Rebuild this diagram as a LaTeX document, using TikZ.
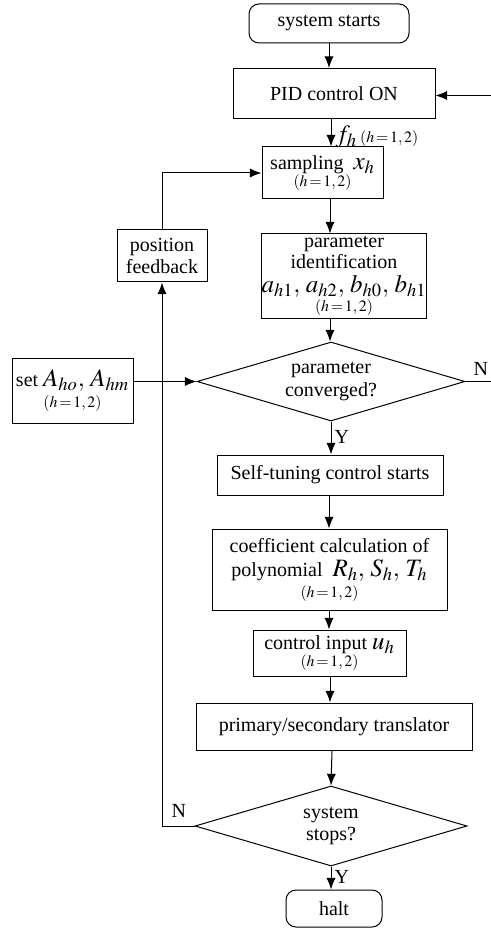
\documentclass[tikz,border=0pt]{standalone}
\usepackage{amsmath}
\usepackage{mathptmx}
\usepackage[no-math]{fontspec}
\setmainfont{Liberation Serif}
\setsansfont{Liberation Serif}
\usepackage{tikz}
\usetikzlibrary{shapes.geometric,arrows.meta}

\newcommand{\hrange}{{\fontsize{9.5}{10}\selectfont$(h\!=\!1,2)$}}
\newcommand{\largemath}[1]{{\fontsize{15}{16}\selectfont$#1$}}

\tikzset{
    box/.style={draw, rectangle, inner sep=0pt, align=center},
    term/.style={draw, rectangle, rounded corners=6pt, inner sep=0pt, align=center},
    decision/.style={draw, diamond, aspect=3.4, inner sep=0pt, align=center},
    arr/.style={-{Latex[length=7pt,width=5.5pt]}},
    lbl/.style={inner sep=0pt, anchor=west}
}

\begin{document}
\begin{tikzpicture}[x=0.6pt, y=-0.6pt, line width=0.6pt, font=\rmfamily\fontsize{12}{13.5}\selectfont]
    \useasboundingbox (0,0) rectangle (491,929);
    % main column
        \node [term, minimum width=96pt, minimum height=23.4pt] (start) at (329,23.5) {system starts};
        \node [box, minimum width=121.2pt, minimum height=30pt] (pid) at (334,93.5) {PID control ON};
        \node [box, minimum width=72.6pt, minimum height=31.2pt] (sample) at (322.5,173) {sampling \ \largemath{x_h}\\[-3pt]\hrange};
        \node [box, minimum width=93.6pt, minimum height=50.4pt] (ident) at (344,276) {parameter\\[-1pt]identification\\[1pt]\largemath{a_{h1},\,a_{h2},\,b_{h0},\,b_{h1}}\\[-2pt]\hrange};
        \node [decision, minimum width=160.8pt, minimum height=47.4pt] (conv) at (331,381.5) {parameter\\converged?};
        \node [box, minimum width=135.6pt, minimum height=24pt] (tuning) at (330,475) {Self-tuning control starts};
        \node [box, minimum width=141pt, minimum height=48.6pt] (coef) at (329.5,569.5) {coefficient calculation of\\[1pt]polynomial \ \largemath{R_h,\,S_h,\,T_h}\\[-1pt]\hrange};
        \node [box, minimum width=91.8pt, minimum height=27.6pt] (input) at (329.5,653) {control input \largemath{u_h}\\[-3pt]\hrange};
        \node [box, minimum width=165.6pt, minimum height=28.2pt] (trans) at (334,726.5) {primary/secondary translator};
        \node [decision, minimum width=163.2pt, minimum height=48pt] (stop) at (331,826) {system\\stops?};
        \node [term, minimum width=57.6pt, minimum height=22.2pt] (halt) at (334,908.5) {halt};
    % side boxes
        \node [box, minimum width=54pt, minimum height=31.2pt] (feedback) at (162,256) {position\\feedback};
        \node [box, minimum width=72.6pt, minimum height=39pt] (setA) at (72.5,390.5) {set \largemath{A_{ho},\,A_{hm}}\\[-1pt]\hrange};
    % helper points
        \coordinate (colA) at (331,0);
        \coordinate (colB) at (330,0);
        \coordinate (colC) at (329,0);
        \coordinate (colD) at (332,0);
        \coordinate (edgeIn) at (491,95.5);
        \coordinate (edgeOut) at (491,381.5);
    % connectors
        \draw [arr] (start.south -| colC) -- (pid.north -| colC);
        \draw [arr] (pid.south -| colA) -- (sample.north -| colA);
        \node [lbl] (fh) at (335,137) {\largemath{f_h}\,\hrange};
        \draw [arr] (sample.south -| colB) -- (ident.north -| colB);
        \draw [arr] (ident.south -| colB) -- (conv.north -| colB);
        \draw [arr] (conv.south) -- (tuning.north -| conv.south);
        \node [lbl] (yes1) at (334,437) {Y};
        \draw [arr] (tuning.south -| colC) -- (coef.north -| colC);
        \draw [arr] (coef.south -| colC) -- (input.north -| colC);
        \draw [arr] (input.south -| colB) -- (trans.north -| colB);
        \draw [arr] (trans.south -| colD) -- (stop.north);
        \draw [arr] (stop.south) -- (halt.north -| stop.south);
        \node [lbl] (yes2) at (334,877) {Y};
        \draw (conv.east) -- (edgeOut);
        \node [lbl] (no1) at (473,369) {N};
        \draw [arr] (edgeIn) -- (pid.east |- edgeIn);
        \draw [arr] (setA.east |- conv.west) -- (conv.west);
        \draw [arr] (stop.west) -| (feedback.south);
        \node [lbl] (no2) at (171,811) {N};
        \draw [arr] (feedback.north) |- (sample.west);
\end{tikzpicture}
\end{document}
